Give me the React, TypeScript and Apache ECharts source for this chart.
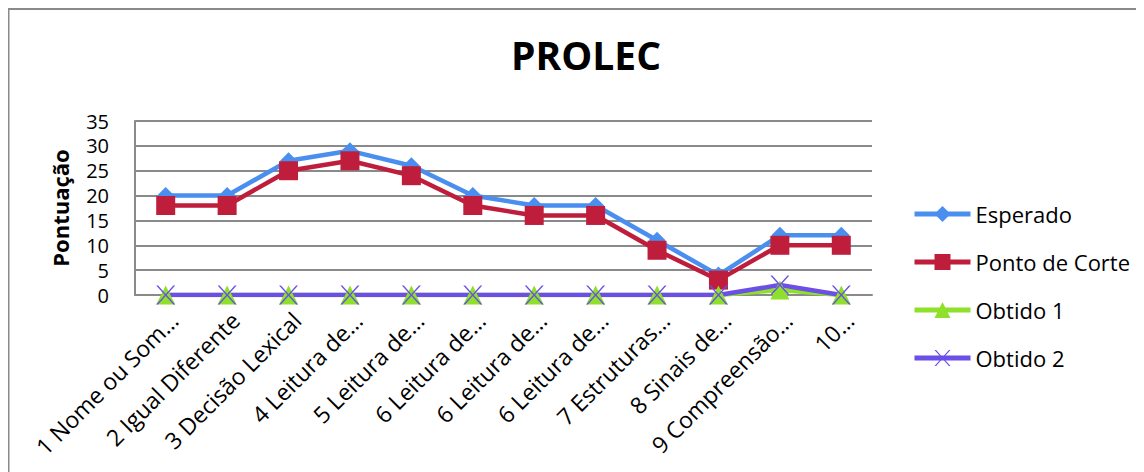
import React, { useEffect, useRef } from "react";
import * as echarts from "echarts";

const categories = [
  "1 Nome ou Som…",
  "2 Igual Diferente",
  "3 Decisão Lexical",
  "4 Leitura de…",
  "5 Leitura de…",
  "6 Leitura de…",
  "6 Leitura de…",
  "6 Leitura de…",
  "7 Estruturas…",
  "8 Sinais de…",
  "9 Compreensão…",
  "10…",
];
const esperado = [20, 20, 27, 29, 26, 20, 18, 18, 11, 4, 12, 12];
const pontoDeCorte = [18, 18, 25, 27, 24, 18, 16, 16, 9, 3, 10, 10];
const obtido1 = [0, 0, 0, 0, 0, 0, 0, 0, 0, 0, 1, 0];
const obtido2 = [0, 0, 0, 0, 0, 0, 0, 0, 0, 0, 2, 0];
const yTicks = { min: 0, max: 35, interval: 5 };

const FONT = "'Open Sans', 'Noto Sans', sans-serif";
const X_PATH = "path://M0,0L2,0L10,8.6L18,0L20,0L11,9.6L20,19.2L18,19.2L10,10.6L2,19.2L0,19.2L9,9.6Z";

export default function App() {
  const ref = useRef<HTMLDivElement>(null);
  useEffect(() => {
    if (!ref.current) return;
    const chart = echarts.init(ref.current, null, { renderer: "svg" });
    chart.setOption({
      animation: false,
      backgroundColor: "#ffffff",
      graphic: [
        {
          type: "rect",
          shape: { x: 0.5, y: 1, width: 3000, height: 3000 },
          style: { fill: "none", stroke: "#8a8a8a", lineWidth: 2 },
          silent: true,
        },
        {
          type: "text",
          x: 578,
          y: 27,
          silent: true,
          style: {
            text: "PROLEC",
            fontFamily: FONT,
            fontSize: 39,
            fontWeight: "bold",
            fill: "#000",
            textAlign: "center",
            textVerticalAlign: "top",
          },
        },
      ],
      grid: { left: 127, right: 272, top: 113, bottom: 177, containLabel: false },
      legend: {
        orient: "vertical",
        left: 904,
        top: 191,
        itemWidth: 56,
        itemHeight: 20,
        itemGap: 18,
        padding: 0,
        lineStyle: { width: 5 },
        textStyle: { fontFamily: FONT, fontSize: 22, color: "#000", lineHeight: 30 },
        data: ["Esperado", "Ponto de Corte", "Obtido 1", "Obtido 2"],
      },
      xAxis: {
        type: "category",
        data: categories,
        boundaryGap: true,
        axisLine: { show: true, lineStyle: { color: "#8a8a8a", width: 2 } },
        axisTick: { show: false },
        axisLabel: {
          interval: 0,
          rotate: 45,
          margin: 13,
          verticalAlign: "top",
          fontFamily: FONT,
          fontSize: 23,
          color: "#000",
        },
      },
      yAxis: {
        type: "value",
        min: yTicks.min,
        max: yTicks.max,
        interval: yTicks.interval,
        name: "Pontuação",
        nameLocation: "middle",
        nameGap: 64,
        nameTextStyle: { fontFamily: FONT, fontSize: 22, fontWeight: "bold", color: "#000" },
        axisLine: { show: true, lineStyle: { color: "#8a8a8a", width: 2 } },
        axisTick: { show: false },
        splitLine: { show: true, lineStyle: { color: "#8a8a8a", width: 2 } },
        axisLabel: { margin: 26, fontFamily: FONT, fontSize: 20, lineHeight: 22, color: "#000" },
      },
      series: [
        {
          name: "Esperado",
          type: "line",
          data: esperado,
          symbol: "diamond",
          symbolSize: 17,
          lineStyle: { color: "#4a8ff0", width: 4.5 },
          itemStyle: { color: "#4a8ff0" },
        },
        {
          name: "Ponto de Corte",
          type: "line",
          data: pontoDeCorte,
          symbol: "rect",
          symbolSize: 19,
          lineStyle: { color: "#be1e3c", width: 4.5 },
          itemStyle: { color: "#be1e3c" },
        },
        {
          name: "Obtido 1",
          type: "line",
          data: obtido1,
          symbol: "triangle",
          symbolSize: 19,
          lineStyle: { color: "#8ee02a", width: 4.5 },
          itemStyle: { color: "#8ee02a" },
        },
        {
          name: "Obtido 2",
          type: "line",
          data: obtido2,
          symbol: X_PATH,
          symbolSize: 19,
          lineStyle: { color: "#6b4fe6", width: 4.5 },
          itemStyle: { color: "#6b4fe6" },
        },
      ],
    });
    return () => chart.dispose();
  }, []);
  return <div ref={ref} style={{ width: 1136, height: 464 }} />;
}
